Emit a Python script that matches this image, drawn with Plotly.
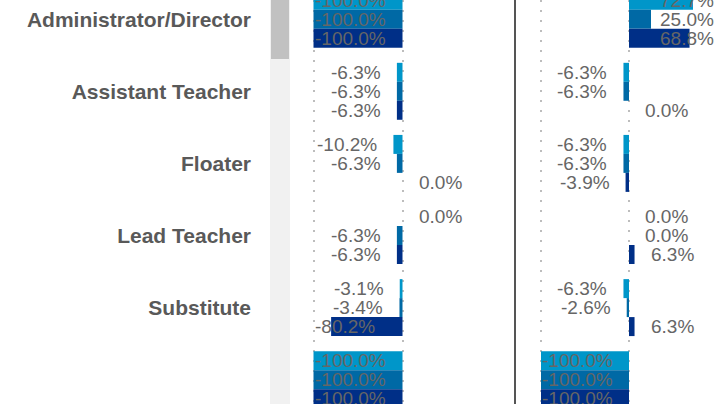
import plotly.graph_objects as go

# ---------------- data ----------------
categories = ["Administrator/Director", "Assistant Teacher", "Floater",
              "Lead Teacher", "Substitute", " "]
series_names = ["Series 1", "Series 2", "Series 3"]
series_colors = ["#0096c9", "#0069a5", "#002f87"]

panel1_light = [-1.000, -0.063, -0.102, 0.000, -0.031, -1.000]
panel1_medium = [-1.000, -0.063, -0.063, -0.063, -0.034, -1.000]
panel1_dark = [-1.000, -0.063, 0.000, -0.063, -0.802, -1.000]

panel2_light = [0.727, -0.063, -0.063, 0.000, -0.063, -1.000]
panel2_medium = [0.250, -0.063, -0.063, 0.000, -0.026, -1.000]
panel2_dark = [0.688, 0.000, -0.039, 0.063, 0.063, -1.000]

grid_vals = [-1, 0]

# ---------------- geometry ----------------
W, H = 715, 404
ROW_PX = 72.1
TOP_PX = 19.2            # pixel of first category centre
BARGAP = 0.21
BAR_W = (1 - BARGAP) / 3

P1 = dict(left=310, right=505, zero=402.5, scale=89.0)
P2 = dict(left=537, right=715, zero=629.0, scale=88.0)

LABEL_SIZE = 19
LABEL_FONT = "Liberation Sans, Arial, sans-serif"
LABEL_COLOR = "#666666"
GAP = 14

ARIAL_W = {"0": .556, "1": .556, "2": .556, "3": .556, "4": .556, "5": .556,
           "6": .556, "7": .556, "8": .556, "9": .556, ".": .278, "-": .333,
           "%": .889}


def text_px(s):
    return sum(ARIAL_W.get(c, .556) for c in s) * LABEL_SIZE


def xrange(p):
    return [(p["left"] - p["zero"]) / p["scale"], (p["right"] - p["zero"]) / p["scale"]]


r1, r2 = xrange(P1), xrange(P2)
y_top = -TOP_PX / ROW_PX
y_bottom = y_top + H / ROW_PX

fig = go.Figure()

panels = [
    ("x", P1, r1, [panel1_light, panel1_medium, panel1_dark]),
    ("x2", P2, r2, [panel2_light, panel2_medium, panel2_dark]),
]

annotations = []
for xref, p, rng, data in panels:
    left_px = p["zero"] - p["scale"]          # pixel of the -100% gridline
    for k, vals in enumerate(data):
        fig.add_trace(go.Bar(
            x=vals, y=categories, orientation="h", name=series_names[k],
            marker=dict(color=series_colors[k], line=dict(width=0)),
            xaxis=xref, yaxis="y", showlegend=False, hoverinfo="x+y",
        ))
        for i, v in enumerate(vals):
            txt = f"{v * 100:.1f}%"
            w = text_px(txt)
            bar_px = abs(v) * p["scale"]
            yv = i + (k - 1) * BAR_W
            if v < 0:
                room = p["zero"] - left_px
                if bar_px + GAP + 2 + w > room:
                    ax, anchor, shift = -1.0, "left", -1
                else:
                    ax, anchor, shift = v, "right", -GAP
            else:
                room = p["right"] - p["zero"]
                if bar_px + GAP + 2 + w > room:
                    ax, anchor, shift = rng[1] - 1e-6, "right", 1
                else:
                    ax, anchor, shift = v, "left", GAP
            annotations.append(dict(
                x=ax, y=yv, xref=xref, yref="y", text=txt, showarrow=False,
                xanchor=anchor, yanchor="middle", xshift=shift,
                font=dict(family=LABEL_FONT, size=LABEL_SIZE, color=LABEL_COLOR),
            ))

axis_common = dict(
    showgrid=True, gridcolor="#bdbdbd", gridwidth=2, griddash="2px,8px",
    zeroline=False, showline=False, showticklabels=False, ticks="",
    tickmode="array", tickvals=grid_vals, fixedrange=True,
)

fig.update_layout(
    width=W, height=H,
    margin=dict(l=0, r=0, t=0, b=0, autoexpand=False),
    paper_bgcolor="white", plot_bgcolor="white",
    barmode="group", bargap=BARGAP, bargroupgap=0,
    xaxis=dict(domain=[P1["left"] / W, P1["right"] / W], range=r1, anchor="y", **axis_common),
    xaxis2=dict(domain=[P2["left"] / W, P2["right"] / W], range=r2, anchor="y", **axis_common),
    yaxis=dict(
        type="category", categoryorder="array", categoryarray=categories,
        range=[y_bottom, y_top], autorange=False, domain=[0, 1],
        showgrid=False, zeroline=False, showline=False, ticks="",
        tickfont=dict(family=LABEL_FONT, size=21, color="#595959", weight="bold"),
        ticklabelstandoff=58, automargin=False, fixedrange=True,
    ),
    annotations=annotations,
    shapes=[
        dict(type="rect", xref="paper", yref="paper", x0=270 / W, x1=290 / W, y0=0, y1=1,
             fillcolor="#f1f1f1", line=dict(width=0), layer="below"),
        dict(type="rect", xref="paper", yref="paper", x0=271 / W, x1=289 / W,
             y0=1 - 59 / H, y1=1, fillcolor="#c1c1c1", line=dict(width=0), layer="below"),
        dict(type="line", xref="paper", yref="paper", x0=515 / W, x1=515 / W, y0=0, y1=1,
             line=dict(color="#555555", width=2)),
    ],
)

fig.write_html(
    "out.html",
    config={"displayModeBar": False},
    post_script="document.body.style.margin='0';document.body.style.overflow='hidden';",
)
